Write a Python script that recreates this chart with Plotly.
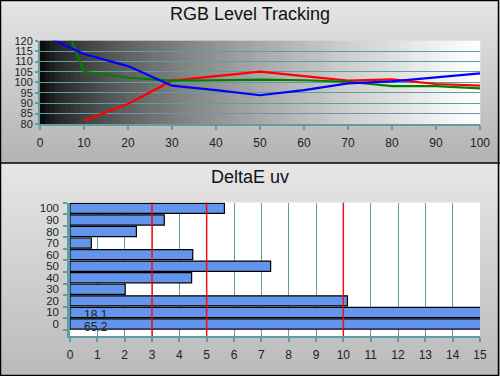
import plotly.graph_objects as go

# ---------------- data ----------------
levels = [0, 10, 20, 30, 40, 50, 60, 70, 80, 90, 100]
red = [None, 81.6, 89.6, 100.8, 102.9, 105.1, 103.0, 100.8, 101.4, 99.2, 98.4]
green = [158.0, 105.1, 102.2, 100.8, 101.0, 101.3, 101.0, 100.3, 98.2, 98.2, 97.1]
blue = [123.4, 113.6, 107.8, 98.4, 96.3, 93.8, 96.3, 99.5, 100.5, 102.4, 104.3]

de_cats = ["0", "10", "20", "30", "40", "50", "60", "70", "80", "90", "100"]
de_vals = [65.2, 18.1, 10.15, 2.02, 4.45, 7.34, 4.49, 0.78, 2.43, 3.45, 5.65]
de_limits = [3, 5, 10]

top_title = "RGB Level Tracking"
bot_title = "DeltaE uv"

W, H = 500, 376
TEAL = "#5f9ea0"
FONT = "Liberation Sans, Arial, sans-serif"


def px(x):
    return x / W


def py(y):
    return 1 - y / H


shapes = []

# panel background gradients (vertical)
def vgrad(y0, y1, c0, c1, step=3):
    y = y0
    while y < y1:
        ye = min(y + step, y1)
        t = (y - y0) / max(1, (y1 - y0))
        v = int(round(c0 + (c1 - c0) * t))
        shapes.append(dict(type="rect", xref="paper", yref="paper",
                           x0=0, x1=1, y0=py(ye), y1=py(y),
                           fillcolor=f"rgb({v},{v},{v})", line=dict(width=0),
                           layer="below"))
        y = ye

vgrad(0, 163, 230, 178)
vgrad(163, 376, 230, 186)

# top plot area gradient (horizontal black -> white)
TX0, TX1, TY0, TY1 = 40, 480, 40.7, 124
n = 88
for i in range(n):
    xa = TX0 + (TX1 - TX0) * i / n
    xb = TX0 + (TX1 - TX0) * (i + 1) / n
    t = (i + 0.5) / n
    v = int(round(255 * t ** 0.6))
    shapes.append(dict(type="rect", xref="paper", yref="paper",
                       x0=px(xa), x1=px(xb) + 0.0005, y0=py(TY1), y1=py(TY0),
                       fillcolor=f"rgb({v},{v},{v})", line=dict(width=0),
                       layer="below"))

# bottom plot area white
BX0, BX1, BY0, BY1 = 70, 480, 202.6, 336
shapes.append(dict(type="rect", xref="paper", yref="paper",
                   x0=px(BX0), x1=px(BX1), y0=py(BY1), y1=py(BY0),
                   fillcolor="white", line=dict(width=0), layer="below"))

# red limit lines
for lim in de_limits:
    shapes.append(dict(type="line", xref="x2", yref="y2 domain",
                       x0=lim, x1=lim, y0=0, y1=1,
                       line=dict(color="rgba(255,0,0,0.9)", width=1.5),
                       layer="above"))

# borders
shapes.append(dict(type="rect", xref="paper", yref="paper",
                   x0=px(0.5), x1=px(498.5), y0=py(375.5), y1=py(0.5),
                   line=dict(color="black", width=1.5), layer="above"))
shapes.append(dict(type="line", xref="paper", yref="paper",
                   x0=0, x1=1, y0=py(163), y1=py(163),
                   line=dict(color="black", width=1.5), layer="above"))

fig = go.Figure()

for name, vals, col in [("Red", red, "#ff0000"), ("Green", green, "#008000"),
                        ("Blue", blue, "#0000ff")]:
    fig.add_trace(go.Scatter(x=levels, y=vals, mode="lines", name=name,
                             line=dict(color=col, width=2.2),
                             connectgaps=False, xaxis="x", yaxis="y",
                             showlegend=False))

fig.add_trace(go.Bar(x=de_vals, y=de_cats, orientation="h",
                     marker=dict(color="#6495ed",
                                 line=dict(color="black", width=1.2)),
                     xaxis="x2", yaxis="y2", showlegend=False))

annotations = [
    dict(text=top_title, xref="paper", yref="paper", x=0.5, y=py(14),
         xanchor="center", yanchor="middle", showarrow=False,
         font=dict(size=18, color="#111", family=FONT)),
    dict(text=bot_title, xref="paper", yref="paper", x=0.5, y=py(177.5),
         xanchor="center", yanchor="middle", showarrow=False,
         font=dict(size=18, color="#111", family=FONT)),
]
xmax = 15
for i, (c, v) in enumerate(zip(de_cats, de_vals)):
    if v > xmax:
        annotations.append(dict(text=f"{v}", x=0.45, y=i, xref="x2", yref="y2",
                                xanchor="left", yanchor="middle", yshift=-3,
                                showarrow=False,
                                font=dict(size=12, color="#222", family=FONT)))

fig.update_layout(
    template="none",
    width=W, height=H, autosize=False,
    margin=dict(l=0, r=0, t=0, b=0, pad=0),
    paper_bgcolor="#d0d0d0",
    plot_bgcolor="rgba(0,0,0,0)",
    font=dict(family=FONT, color="#222"),
    bargap=0.12,
    shapes=shapes,
    annotations=annotations,
    xaxis=dict(domain=[px(TX0), px(TX1)], range=[0, 100], anchor="y",
               automargin=False,
               tickmode="array", tickvals=levels, ticks="outside",
               ticklen=4, tickwidth=2, tickcolor=TEAL,
               showline=True, linecolor=TEAL, linewidth=2,
               showgrid=False, zeroline=False,
               tickfont=dict(size=12, color="#222"), ticklabelstandoff=3),
    yaxis=dict(domain=[py(TY1), py(TY0)], range=[80, 120], anchor="x",
               automargin=False,
               tickmode="array", tickvals=list(range(80, 121, 5)),
               ticks="outside", ticklen=3, tickwidth=2, tickcolor=TEAL,
               showline=True, linecolor=TEAL, linewidth=2,
               showgrid=True, gridcolor=TEAL, gridwidth=1, zeroline=False,
               tickfont=dict(size=11, color="#222"), ticklabelstandoff=0),
    xaxis2=dict(domain=[px(BX0), px(BX1)], range=[0, 15], anchor="y2",
                automargin=False,
                tickmode="array", tickvals=list(range(0, 16)),
                ticks="outside", ticklen=4, tickwidth=2, tickcolor=TEAL,
                showline=True, linecolor=TEAL, linewidth=2,
                showgrid=True, gridcolor=TEAL, gridwidth=1, zeroline=False,
                tickfont=dict(size=12, color="#222"), ticklabelstandoff=3),
    yaxis2=dict(domain=[py(BY1), py(BY0)], anchor="x2", type="category",
                automargin=False,
                categoryorder="array", categoryarray=de_cats,
                tickmode="array", tickvals=de_cats,
                ticks="outside", tickson="boundaries", ticklen=4,
                tickwidth=2, tickcolor=TEAL,
                showline=True, linecolor=TEAL, linewidth=2.5,
                showgrid=False, zeroline=False,
                tickfont=dict(size=11.5, color="#222"), ticklabelstandoff=6),
)

fig.write_html("out.html",
               config={"displayModeBar": False, "responsive": False},
               post_script="document.documentElement.style.margin='0';"
                           "document.documentElement.style.overflow='hidden';"
                           "document.body.style.margin='0';"
                           "document.body.style.overflow='hidden';")
